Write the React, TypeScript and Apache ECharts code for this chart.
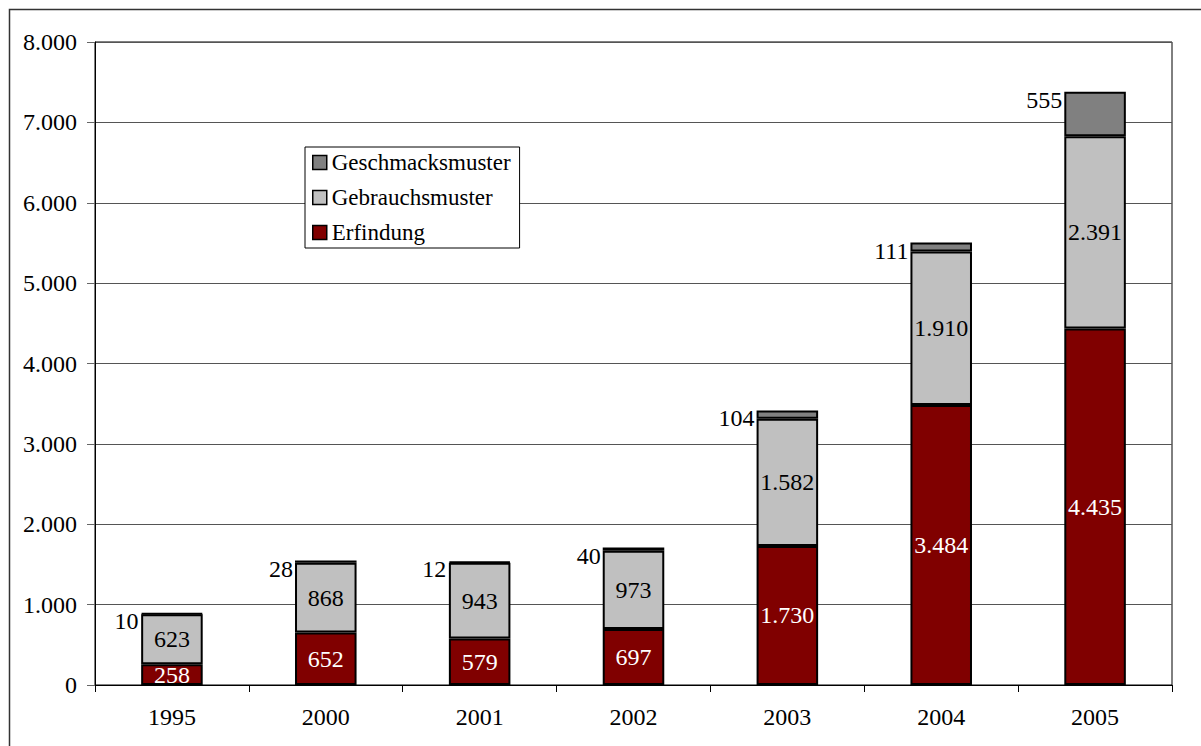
import React, { useEffect, useRef } from "react";
import * as echarts from "echarts";

const categories = ["1995", "2000", "2001", "2002", "2003", "2004", "2005"];
const erfindung = [258, 652, 579, 697, 1730, 3484, 4435];
const gebrauchsmuster = [623, 868, 943, 973, 1582, 1910, 2391];
const geschmacksmuster = [10, 28, 12, 40, 104, 111, 555];
const legendOrder = ["Geschmacksmuster", "Gebrauchsmuster", "Erfindung"];

const FONT = "'Liberation Serif', 'Times New Roman', serif";

function fmt(v: number): string {
  return String(Math.round(v)).replace(/\B(?=(\d{3})+(?!\d))/g, ".");
}

export default function App() {
  const ref = useRef<HTMLDivElement>(null);
  useEffect(() => {
    if (!ref.current) return;
    const chart = echarts.init(ref.current, null, { renderer: "svg" });
    const barStyle = { borderColor: "#000", borderWidth: 2 };
    chart.setOption({
      animation: false,
      backgroundColor: "#fff",
      textStyle: { fontFamily: FONT },
      graphic: [
        {
          type: "rect",
          shape: { x: 9.5, y: 9.5, width: 1300, height: 900 },
          style: { fill: "none", stroke: "#333", lineWidth: 1.5 },
          silent: true,
          z: 0,
        },
      ],
      legend: {
        orient: "vertical",
        left: 305,
        top: 147,
        data: legendOrder,
        icon: "rect",
        itemWidth: 14,
        itemHeight: 14,
        itemGap: 12,
        padding: [4, 9, 4, 7],
        borderColor: "#000",
        borderWidth: 1,
        backgroundColor: "#fff",
        textStyle: { fontFamily: FONT, fontSize: 23, color: "#000" },
        itemStyle: { borderColor: "#000", borderWidth: 1.5 },
      },
      grid: {
        left: 95,
        right: 29,
        top: 42,
        bottom: 61,
        show: true,
        borderColor: "#000",
        borderWidth: 1,
      },
      xAxis: {
        type: "category",
        data: categories,
        boundaryGap: true,
        axisLine: { lineStyle: { color: "#000", width: 1 } },
        axisTick: { show: true, length: 7, alignWithLabel: false, lineStyle: { color: "#000" } },
        axisLabel: { fontFamily: FONT, fontSize: 24, color: "#000", margin: 20 },
      },
      yAxis: {
        type: "value",
        min: 0,
        max: 8000,
        interval: 1000,
        axisLine: { show: true, lineStyle: { color: "#000", width: 1 } },
        axisTick: { show: true, length: 8, lineStyle: { color: "#666" } },
        splitLine: { show: true, lineStyle: { color: "#555", width: 1 } },
        axisLabel: {
          fontFamily: FONT,
          fontSize: 24,
          color: "#000",
          margin: 18,
          formatter: (v: number) => fmt(v),
        },
      },
      series: [
        {
          name: "Erfindung",
          type: "bar",
          stack: "total",
          data: erfindung,
          barWidth: "40%",
          itemStyle: { color: "#800000", ...barStyle },
          label: {
            show: true,
            position: "inside",
            color: "#fff",
            fontFamily: FONT,
            fontSize: 24,
            formatter: (p: any) => fmt(p.value),
          },
        },
        {
          name: "Gebrauchsmuster",
          type: "bar",
          stack: "total",
          data: gebrauchsmuster,
          barWidth: "40%",
          itemStyle: { color: "#C0C0C0", ...barStyle },
          label: {
            show: true,
            position: "inside",
            color: "#000",
            fontFamily: FONT,
            fontSize: 24,
            formatter: (p: any) => fmt(p.value),
          },
        },
        {
          name: "Geschmacksmuster",
          type: "bar",
          stack: "total",
          data: geschmacksmuster,
          barWidth: "40%",
          itemStyle: { color: "#808080", ...barStyle },
          label: {
            show: true,
            position: [-2, 8],
            align: "right",
            verticalAlign: "middle",
            color: "#000",
            fontFamily: FONT,
            fontSize: 24,
            formatter: (p: any) => fmt(p.value),
          },
        },
      ],
    });
    return () => chart.dispose();
  }, []);
  return (
    <div
      ref={ref}
      style={{ position: "fixed", left: 0, top: 0, width: 1201, height: 746 }}
    />
  );
}
